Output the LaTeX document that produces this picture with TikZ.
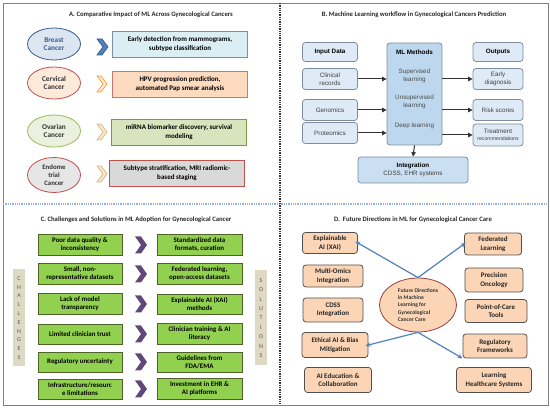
\documentclass[tikz,border=0pt]{standalone}
\usepackage{fontspec}
\setmainfont{Carlito}
\newfontfamily\flowfont{Liberation Sans}
\usetikzlibrary{shapes.geometric, arrows.meta}

\tikzset{
  panel title/.style={font=\bfseries\fontsize{6.7}{8}\selectfont, text=black!85},
  cancer/.style={ellipse, thick, minimum width=53pt, minimum height=32pt, inner sep=0pt,
    align=center, font=\bfseries\fontsize{7.3}{8.6}\selectfont},
  impact/.style={rectangle, draw, thick, minimum width=135pt, minimum height=26pt,
    align=center, font=\bfseries\fontsize{7}{8.4}\selectfont},
  chev/.style={line width=0.7pt, line join=miter},
  flowbox/.style={rectangle, rounded corners=3pt, draw=flowline, line width=0.8pt, fill=flowfill,
    minimum width=55pt, minimum height=21pt, align=center, text=black!75,
    font=\flowfont\fontsize{6.3}{7.6}\selectfont},
  flowhead/.style={flowbox, minimum height=19pt, text=black, font=\flowfont\bfseries\fontsize{6.3}{7.6}\selectfont},
  flowarrow/.style={-{Triangle[length=4.5pt, width=4.5pt]}, line width=1pt, black!80},
  challenge/.style={rectangle, draw=challine, line width=0.9pt, fill=chalgreen,
    minimum width=84pt, minimum height=20pt, align=center, font=\bfseries\fontsize{6.9}{8}\selectfont},
  sidebar/.style={rectangle, fill=sidefill, minimum width=12pt, inner sep=0pt, align=center,
    text=black!65, font=\fontsize{6}{8.8}\selectfont},
  future/.style={rectangle, rounded corners=3pt, draw=futline, line width=0.8pt, fill=futfill,
    align=center, font=\bfseries\fontsize{7}{8.3}\selectfont, text=black!85},
  futarrow/.style={-{Stealth[length=5pt, width=4.5pt]}, line width=1.2pt, futblue}
}

\begin{document}
\begin{tikzpicture}[x=1pt, y=-1pt]
  \definecolor{breastfill}{RGB}{220,230,242}
  \definecolor{breastline}{RGB}{56,93,138}
  \definecolor{breastbox}{RGB}{219,238,244}
  \definecolor{cervfill}{RGB}{253,234,218}
  \definecolor{cervline}{RGB}{192,80,77}
  \definecolor{cervbox}{RGB}{252,218,192}
  \definecolor{ovarfill}{RGB}{235,241,222}
  \definecolor{ovarline}{RGB}{155,187,89}
  \definecolor{ovarbox}{RGB}{215,228,189}
  \definecolor{endofill}{RGB}{230,230,230}
  \definecolor{endobox}{RGB}{217,217,217}
  \definecolor{chevtan}{RGB}{251,231,205}
  \definecolor{chevtanline}{RGB}{218,180,130}
  \definecolor{flowfill}{RGB}{222,235,247}
  \definecolor{flowline}{RGB}{125,140,158}
  \definecolor{mlfill}{RGB}{189,215,238}
  \definecolor{chalgreen}{RGB}{146,208,80}
  \definecolor{challine}{RGB}{79,98,40}
  \definecolor{chevpurple}{RGB}{96,73,122}
  \definecolor{sidefill}{RGB}{221,217,195}
  \definecolor{futfill}{RGB}{251,213,181}
  \definecolor{futline}{RGB}{80,80,80}
  \definecolor{futblue}{RGB}{79,129,189}
  \definecolor{dotblue}{RGB}{149,179,215}

  \useasboundingbox (0, 0) rectangle (550, 411);

  % draw frame and panel separators
  \draw [gray, line width=0.8pt] (3, 3) rectangle (548, 405);
  \draw [dotblue, densely dotted, line width=1.3pt] (3, 204) -- (548, 204);
  \draw [black!80, densely dotted, line width=1.3pt] (280, 3) -- (280, 405);

  % draw panel A
  \node [panel title] (titleA) at (151, 15) {A. Comparative Impact of ML Across Gynecological Cancers};
  \node [cancer, fill=breastfill, draw=breastline, text=breastline] (breast) at (54, 44) {Breast\\Cancer};
  \node [impact, fill=breastbox, draw=flowline] (breastuse) at (180, 44) {Early detection from mammograms,\\subtype classification};
  \node [cancer, fill=cervfill, draw=cervline, text=black!80] (cervical) at (54, 83) {Cervical\\Cancer};
  \node [impact, fill=cervbox, draw=cervline!80] (cervicaluse) at (180, 84) {HPV progression prediction,\\automated Pap smear analysis};
  \node [cancer, fill=ovarfill, draw=ovarline, text=black!80] (ovarian) at (54, 131) {Ovarian\\Cancer};
  \node [impact, fill=ovarbox, draw=ovarline!80!black] (ovarianuse) at (179, 132) {miRNA biomarker discovery, survival\\modeling};
  \node [cancer, fill=endofill, draw=cervline, text=black!80, minimum height=35pt,
    font=\bfseries\fontsize{6.8}{7.8}\selectfont] (endometrial) at (54, 175) {Endome\\trial\\Cancer};
  \node [impact, fill=endobox, draw=cervline] (endometrialuse) at (177, 173) {Subtype stratification, MRI radiomic-\\based staging};

  % chevrons between cancer and impact
  \draw [chev, fill=futblue, draw=breastline] (102, 47) ++(-5, -8) -- ++(5, 0) -- ++(6, 8) -- ++(-6, 8) -- ++(-5, 0) -- ++(6, -8) -- cycle;
  \draw [chev, fill=cervfill, draw=orange!80] (102, 84) ++(-5, -8) -- ++(4, 0) -- ++(6, 8) -- ++(-6, 8) -- ++(-4, 0) -- ++(6, -8) -- cycle;
  \draw [chev, fill=chevtan, draw=chevtanline] (102, 132) ++(-5, -8) -- ++(4, 0) -- ++(6, 8) -- ++(-6, 8) -- ++(-4, 0) -- ++(6, -8) -- cycle;
  \draw [chev, fill=chevtan, draw=chevtanline] (102, 174) ++(-5, -8) -- ++(4, 0) -- ++(6, 8) -- ++(-6, 8) -- ++(-4, 0) -- ++(6, -8) -- cycle;

  % draw panel B
  \node [panel title] (titleB) at (414, 15) {B. Machine Learning workflow in Gynecological Cancers Prediction};
  \node [flowhead] (inhead) at (330, 52) {Input Data};
  \node [flowbox] (clinical) at (330, 79) {Clinical\\records};
  \node [flowbox] (genomics) at (330, 110) {Genomics};
  \node [flowbox] (proteomics) at (330, 133) {Proteomics};
  \node [flowbox, fill=mlfill, minimum height=102pt] (methods) at (414.5, 94) {};
  \node [font=\flowfont\bfseries\fontsize{6.3}{7.6}\selectfont] (mlhead) at (414.5, 52) {ML Methods};
  \node [align=center, text=black!70, font=\flowfont\fontsize{6.3}{7.6}\selectfont] (supervised) at (414.5, 76) {Supervised\\learning};
  \node [align=center, text=black!70, font=\flowfont\fontsize{6.3}{7.6}\selectfont] (unsupervised) at (414.5, 102) {Unsupervised\\learning};
  \node [align=center, text=black!70, font=\flowfont\fontsize{6.3}{7.6}\selectfont] (deep) at (414.5, 126) {Deep learning};
  \node [flowhead, minimum width=50pt] (outhead) at (498, 52) {Outputs};
  \node [flowbox, minimum width=50pt] (early) at (498, 79) {Early\\diagnosis};
  \node [flowbox, minimum width=50pt] (risk) at (498, 110) {Risk scores};
  \node [flowbox, minimum width=50pt, minimum height=22pt] (treatment) at (498, 135)
    {Treatment\\{\fontsize{5.2}{6}\selectfont recommendations}};
  \node [flowbox, fill=mlfill!80, minimum width=110pt, minimum height=26pt] (integration) at (413, 170)
    {{\bfseries\color{black}Integration}\\CDSS, EHR systems};
  \draw [flowarrow] (clinical.east) -- (clinical.east -| methods.west);
  \draw [flowarrow] (genomics.east) -- (genomics.east -| methods.west);
  \draw [flowarrow] (proteomics.east) -- (proteomics.east -| methods.west);
  \draw [flowarrow] (early.west -| methods.east) -- (early.west);
  \draw [flowarrow] (risk.west -| methods.east) -- (risk.west);
  \draw [flowarrow] (treatment.west -| methods.east) -- (treatment.west);
  \draw [flowarrow] (methods.south) -- (integration.north);

  % draw panel C
  \node [panel title] (titleC) at (136, 220) {C. Challenges and Solutions in ML Adoption for Gynecological Cancer};
  \node [sidebar, minimum height=97pt] (challenges) at (19, 318) {C\\H\\A\\L\\L\\E\\N\\G\\E\\S};
  \node [sidebar, minimum height=95pt, font=\fontsize{6}{9.4}\selectfont] (solutions) at (261, 318) {S\\O\\L\\U\\T\\I\\O\\N\\S};
  \node [challenge] (poordata) at (80, 245) {Poor data quality \&\\inconsistency};
  \node [challenge] (smalldata) at (80, 274) {Small, non-\\representative datasets};
  \node [challenge] (transparency) at (80, 304) {Lack of model\\transparency};
  \node [challenge] (trust) at (80, 334) {Limited clinician trust};
  \node [challenge] (regulation) at (80, 362) {Regulatory uncertainty};
  \node [challenge] (infrastructure) at (80, 389) {Infrastructure/resourc\\e limitations};
  \node [challenge, minimum width=85pt] (standard) at (199.5, 245) {Standardized data\\formats, curation};
  \node [challenge, minimum width=85pt] (federated) at (199.5, 274) {Federated learning,\\open-access datasets};
  \node [challenge, minimum width=85pt] (xaimethods) at (199.5, 304) {Explainable AI (XAI)\\methods};
  \node [challenge, minimum width=85pt] (training) at (199.5, 334) {Clinician training \& AI\\literacy};
  \node [challenge, minimum width=85pt] (guidelines) at (199.5, 362) {Guidelines from\\FDA/EMA};
  \node [challenge, minimum width=85pt] (investment) at (199.5, 389) {Investment in EHR \&\\AI platforms};
  \foreach \row in {245, 274, 304, 334, 362, 389}
    \fill [chevpurple] (141, \row) ++(-6, -8.5) -- ++(6, 0) -- ++(6, 8.5) -- ++(-6, 8.5) -- ++(-6, 0) -- ++(6, -8.5) -- cycle;

  % draw panel D
  \node [panel title] (titleD) at (413, 220) {D.~~Future Directions in ML for Gynecological Cancer Care};
  \node [ellipse, draw=cervline!80!black, fill=futfill, line width=0.8pt, minimum width=77pt, minimum height=54pt,
    align=left, inner sep=0pt, text=black!80, font=\bfseries\fontsize{5.6}{7.2}\selectfont] (hub) at (418, 305)
    {Future Directions\\in Machine\\Learning for\\Gynecological\\Cancer Care};
  \node [future, minimum width=55pt, minimum height=21pt] (xai) at (330, 243) {Explainable\\AI (XAI)};
  \node [future, minimum width=60pt, minimum height=22pt] (omics) at (333, 276) {Multi-Omics\\Integration};
  \node [future, minimum width=60pt, minimum height=24pt] (cdss) at (333, 310) {CDSS\\Integration};
  \node [future, minimum width=66pt, minimum height=25pt] (ethics) at (335, 345) {Ethical AI \& Bias\\Mitigation};
  \node [future, minimum width=67pt, minimum height=25pt] (education) at (338, 380) {AI Education \&\\Collaboration};
  \node [future, minimum width=57pt, minimum height=22pt] (fedlearn) at (493, 244) {Federated\\Learning};
  \node [future, minimum width=58pt, minimum height=24pt] (precision) at (494, 280) {Precision\\Oncology};
  \node [future, minimum width=62pt, minimum height=23pt] (pointofcare) at (496, 311) {Point-of-Care\\Tools};
  \node [future, minimum width=64pt, minimum height=24pt] (regulatory) at (495, 346) {Regulatory\\Frameworks};
  \node [future, minimum width=75pt, minimum height=25pt] (healthcare) at (494, 380) {Learning\\Healthcare Systems};
  \draw [futarrow, shorten >=-3pt] (hub.north) -- (xai.east);
  \draw [futarrow, shorten >=-2pt] (hub.north) -- (fedlearn.west);
  \draw [futarrow, shorten >=-3pt] (hub.south) -- (ethics.east);
  \draw [futarrow] (hub.south) -- (regulatory.south west);
\end{tikzpicture}
\end{document}
